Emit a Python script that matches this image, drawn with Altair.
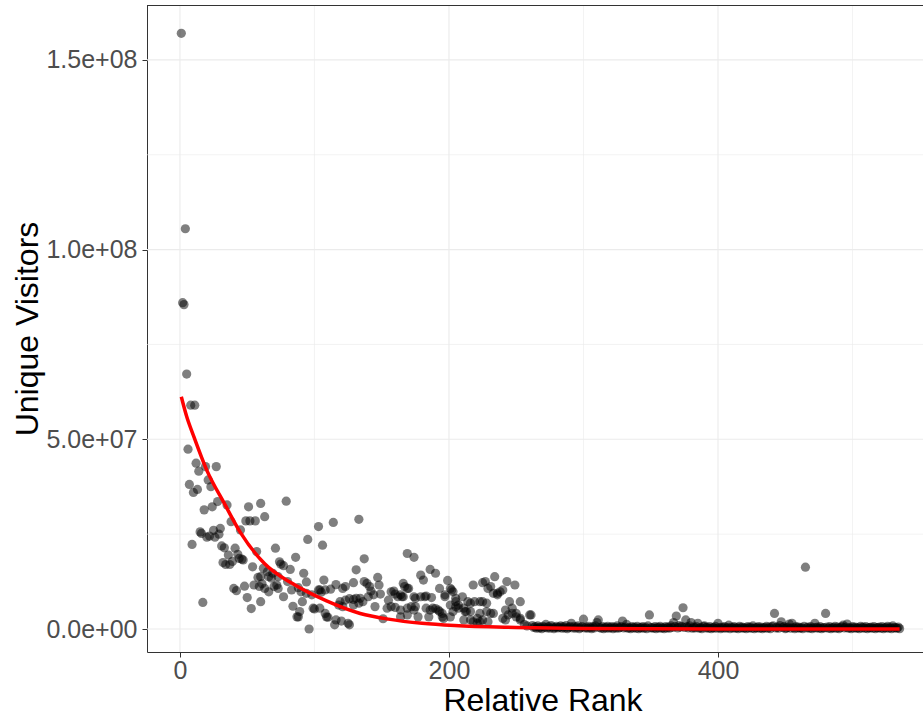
import altair as alt
import pandas as pd

# ---------------- data (values in millions of unique visitors) ----------------
HEAD_RANK = [
    1, 2, 3, 4, 5, 6, 7, 8, 9, 10,
    11, 12, 13, 14, 15, 16, 17, 18, 19, 20,
    21, 22, 23, 24, 25, 26, 27, 28, 29, 30,
    31, 32, 33, 34, 35, 36, 37, 38, 39, 40,
    41, 42, 43, 44, 45, 46, 47, 48, 49, 50,
    51, 52, 53, 54, 55, 56, 57, 58, 59, 60,
    60, 60, 61, 62, 63, 63, 65, 66, 66, 68,
    69, 70, 71, 72, 73, 73, 74, 75, 77, 77,
    79, 80, 82, 83, 84, 86, 87, 88, 88, 89,
    90, 91, 92, 94, 94, 95, 96, 98, 99, 100,
    103, 103, 104, 104, 105, 106, 107, 108, 108, 109,
    110, 112, 114, 115, 116, 116, 118, 119, 120, 121,
    121, 123, 123, 125, 126, 126, 129, 129, 129, 131,
    131, 133, 133, 134, 136, 137, 137, 139, 140, 141,
    142, 144, 145, 147, 148, 149, 151, 154, 155, 157,
    157, 159, 160, 160, 162, 164, 164, 164, 165, 166,
    166, 167, 169, 169, 169, 169, 170, 172, 174, 174,
    174, 175, 175, 177, 179, 179, 181, 182, 183, 183,
    185, 186, 186, 187, 188, 190, 190, 192, 193, 193,
    195, 195, 196, 197, 197, 199, 201, 201, 201, 202,
    203, 203, 205, 205, 205, 207, 207, 210, 211, 211,
    212, 213, 214, 216, 216, 216, 218, 218, 219, 221,
    221, 223, 223, 223, 225, 225, 225, 227, 228, 228,
    229, 229, 231, 231, 233, 233, 234, 236, 236, 238,
    240, 240, 242, 242, 243, 244, 245, 247, 247, 249,
    250, 250, 253, 253, 253, 256, 258, 260, 261,
]
HEAD_VISITORS_M = [
    157, 86, 85.5, 105.5, 67.2, 47.4, 38.1, 59.0, 22.3, 36.0,
    59.0, 43.7, 36.8, 41.6, 25.6, 25.2, 7.0, 31.4, 42.8, 24.2,
    39.3, 24.5, 37.5, 32.2, 26.0, 24.2, 42.8, 33.6, 25.0, 26.5,
    21.9, 17.5, 21.4, 17.0, 32.7, 19.5, 17.0, 28.3, 17.8, 10.7,
    21.3, 10.1, 19.7, 18.6, 26.1, 18.4, 18.2, 11.3, 28.5, 8.3,
    32.2, 28.5, 5.4, 16.4, 11.6, 28.5, 20.4, 13.6, 11.2, 33.1,
    13.8, 7.2, 11.9, 16.0, 29.6, 10.7, 15.1, 13.8, 9.8, 13.4,
    14.7, 11.2, 21.3, 11.6, 13.8, 10.7, 17.7, 17.1, 16.7, 8.5,
    33.7, 12.5, 15.7, 10.3, 6.0, 18.9, 3.2, 10.9, 3.2, 4.6,
    9.8, 7.2, 14.7, 12.4, 9.4, 23.6, 0.0, 9.0, 5.5, 5.3,
    27.0, 10.3, 10.3, 5.5, 9.7, 22.1, 12.9, 10.3, 4.1, 3.2,
    3.1, 10.5, 28.1, 1.1, 2.4, 11.7, 6.3, 7.2, 2.1, 10.7,
    5.9, 7.6, 11.2, 1.5, 8.0, 1.1, 12.2, 7.8, 6.3, 15.6,
    8.1, 6.8, 28.9, 8.1, 7.2, 18.5, 12.5, 12.0, 8.5, 11.2,
    10.0, 9.0, 5.9, 13.6, 11.6, 9.2, 2.7, 5.5, 7.6, 9.8,
    5.9, 10.0, 9.2, 5.7, 8.5, 5.0, 3.2, 9.0, 8.5, 8.5,
    12.0, 11.2, 19.9, 10.7, 3.7, 5.5, 10.7, 5.9, 18.9, 8.5,
    5.0, 8.1, 5.9, 3.2, 14.2, 8.5, 12.9, 8.5, 8.7, 5.5,
    3.2, 15.7, 5.0, 8.3, 5.5, 14.7, 5.4, 5.0, 10.7, 4.6,
    4.1, 3.2, 2.8, 9.0, 8.5, 12.8, 10.7, 6.3, 3.2, 10.3,
    9.8, 4.6, 8.1, 5.9, 7.2, 6.3, 5.5, 8.5, 5.5, 2.4,
    4.6, 4.6, 7.2, 6.8, 4.6, 2.4, 11.6, 1.9, 7.2, 2.8,
    1.5, 7.2, 4.1, 1.9, 7.2, 12.2, 2.4, 12.5, 6.8, 4.6,
    10.7, 1.9, 11.2, 4.1, 9.4, 4.1, 13.8, 9.4, 9.0, 9.8,
    10.3, 2.8, 5.0, 2.4, 12.5, 3.7, 7.2, 4.1, 5.5, 11.6,
    3.2, 4.1, 7.2, 2.8, 2.4, 1.2, 0.8, 3.7, 3.7,
]

# ranks 262 .. 535, one value each
TAIL_FIRST_RANK = 262
TAIL_VISITORS_M = [
    0.9, 0.4, 0.6, 0.2, 0.8, 0.3, 0.5, 0.1, 0.7, 0.4,
    1.2, 0.3, 0.6, 0.2, 0.9, 0.5, 0.1, 0.4, 0.7, 0.3,
    0.5, 0.8, 0.2, 0.6, 0.3, 0.9, 0.1, 0.4, 0.6, 1.5,
    0.3, 0.7, 0.2, 0.5, 0.8, 0.1, 0.4, 0.6, 2.6, 0.3,
    0.5, 0.2, 0.7, 0.4, 0.1, 0.6, 0.3, 0.8, 1.7, 2.4,
    0.4, 0.2, 0.6, 0.1, 0.5, 0.3, 0.7, 0.2, 0.4, 0.6,
    0.1, 0.5, 0.3, 0.8, 0.2, 0.4, 0.6, 2.1, 0.3, 0.5,
    1.2, 0.2, 0.4, 0.1, 0.6, 0.3, 0.5, 0.2, 0.7, 0.1,
    0.4, 0.3, 0.6, 0.2, 0.5, 0.1, 0.8, 3.7, 0.3, 0.4,
    0.2, 0.6, 0.1, 0.5, 0.3, 0.7, 0.2, 0.4, 0.1, 0.6,
    0.3, 0.5, 0.2, 0.8, 0.4, 1.7, 0.6, 3.4, 0.3, 0.9,
    0.5, 0.7, 5.6, 0.4, 2.4, 0.6, 0.3, 0.8, 1.7, 0.2,
    0.5, 0.3, 0.6, 1.5, 0.2, 0.4, 0.1, 0.7, 0.8, 0.3,
    0.5, 0.2, 0.6, 0.1, 0.4, 0.3, 0.7, 0.2, 1.5, 0.4,
    0.1, 0.5, 0.3, 0.6, 0.2, 0.4, 1.0, 0.1, 0.5, 0.3,
    0.6, 0.2, 0.4, 0.1, 0.7, 0.3, 0.5, 0.2, 0.4, 0.1,
    0.6, 0.3, 0.5, 0.2, 0.8, 0.1, 0.4, 0.3, 0.6, 0.2,
    0.5, 0.1, 0.4, 0.3, 0.7, 0.2, 0.5, 0.1, 0.6, 0.8,
    4.1, 0.3, 0.5, 0.2, 0.9, 1.9, 0.4, 0.6, 0.1, 0.3,
    0.5, 1.3, 0.2, 1.5, 0.4, 0.1, 0.6, 0.3, 0.5, 0.2,
    0.4, 0.1, 0.7, 16.3, 0.3, 0.5, 0.2, 0.6, 0.1, 0.4,
    1.5, 0.3, 0.5, 0.2, 0.6, 0.1, 0.4, 0.3, 4.1, 0.5,
    0.2, 0.6, 0.1, 0.4, 0.3, 0.7, 0.2, 0.5, 0.1, 0.4,
    0.6, 1.0, 0.3, 0.5, 1.3, 0.2, 0.4, 0.1, 0.6, 0.3,
    0.5, 0.2, 0.4, 0.1, 0.7, 0.3, 0.5, 0.2, 0.6, 0.1,
    0.4, 0.3, 0.5, 0.2, 0.6, 0.1, 0.4, 0.3, 0.5, 0.2,
    0.6, 0.1, 0.4, 0.3, 0.7, 0.2, 0.5, 0.1, 0.8, 0.3,
    0.4, 0.2, 0.5, 0.1,
]

# red fitted curve
FIT_RANK = [1, 5, 10, 20, 33, 45, 63, 84, 109, 134, 155, 180, 204, 250, 300, 400, 535]
FIT_VISITORS_M = [61.2, 56.0, 51.0, 41.8, 33.1, 25.4, 17.2, 11.9, 7.4, 4.1, 2.6, 1.5, 0.9, 0.4, 0.15, 0.02, 0.0]

X_MAJOR = [0, 200, 400]
X_MINOR = [100, 300, 500]
Y_MAJOR = [0, 50000000, 100000000, 150000000]
Y_MAJOR_LABELS = ["0.0e+00", "5.0e+07", "1.0e+08", "1.5e+08"]
Y_MINOR = [25000000, 75000000, 125000000]

# ---------------- tables ----------------
ranks = HEAD_RANK + list(range(TAIL_FIRST_RANK, TAIL_FIRST_RANK + len(TAIL_VISITORS_M)))
visitors = [v * 1e6 for v in HEAD_VISITORS_M + TAIL_VISITORS_M]
points = pd.DataFrame({"rank": ranks, "visitors": visitors})
fit = pd.DataFrame({"rank": FIT_RANK, "visitors": [v * 1e6 for v in FIT_VISITORS_M]})

W, H = 776, 647
FONT = "Liberation Sans"
GRID = "#EBEBEB"
DARK = "#333333"

xscale = alt.Scale(domain=[-24.5, 552.4], nice=False, zero=False)
yscale = alt.Scale(domain=[-6.06e6, 1.6447e8], nice=False, zero=False)

label_expr = "''"
for v, lab in reversed(list(zip(Y_MAJOR, Y_MAJOR_LABELS))):
    label_expr = f"datum.value == {v} ? '{lab}' : ({label_expr})"

x_axis = alt.Axis(
    values=X_MAJOR, title="Relative Rank", grid=False,
    labelFontSize=25, labelColor="#4D4D4D", labelPadding=1,
    tickSize=5, tickColor=DARK, tickWidth=1,
    domainColor=DARK, domainWidth=1,
    titleFontSize=32, titleColor="black", titleFontWeight="normal",
    titleX=395.5, titleY=58, titleAlign="center", titleBaseline="alphabetic",
)
y_axis = alt.Axis(
    values=Y_MAJOR, labelExpr=label_expr, title="Unique Visitors", grid=False,
    labelFontSize=25, labelColor="#4D4D4D", labelPadding=5,
    tickSize=5, tickColor=DARK, tickWidth=1,
    domainColor=DARK, domainWidth=1,
    titleFontSize=32, titleColor="black", titleFontWeight="normal",
    titleX=-110, titleY=H / 2, titleAlign="center", titleBaseline="alphabetic",
    titleAngle=270,
)


def xe():
    return alt.X("rank:Q", scale=xscale, axis=x_axis)


def ye():
    return alt.Y("visitors:Q", scale=yscale, axis=y_axis)


x_minor = alt.Chart(pd.DataFrame({"rank": X_MINOR})).mark_rule(
    color=GRID, strokeWidth=0.6).encode(x=xe())
x_major = alt.Chart(pd.DataFrame({"rank": X_MAJOR})).mark_rule(
    color=GRID, strokeWidth=1.1).encode(x=xe())
y_minor = alt.Chart(pd.DataFrame({"visitors": Y_MINOR})).mark_rule(
    color=GRID, strokeWidth=0.6).encode(y=ye())
y_major = alt.Chart(pd.DataFrame({"visitors": Y_MAJOR})).mark_rule(
    color=GRID, strokeWidth=1.1).encode(y=ye())

dots = alt.Chart(points).mark_circle(
    size=85, color="black", opacity=0.5, clip=True
).encode(x=xe(), y=ye())

curve = alt.Chart(fit).mark_line(
    color="#FF0000", strokeWidth=3.5, interpolate="monotone", clip=True
).encode(x=xe(), y=ye())

top_border = alt.Chart(pd.DataFrame({"k": [0]})).mark_rule(
    color=DARK, strokeWidth=1
).encode(x=alt.value(0), x2=alt.value(W), y=alt.value(0.5))

chart = alt.layer(
    x_minor, y_minor, x_major, y_major, dots, curve, top_border
).properties(
    width=W, height=H,
    autosize=alt.AutoSizeParams(type="none"),
    padding={"left": 147, "top": 5, "right": 0, "bottom": 67},
).configure_view(stroke=None).configure_axis(
    labelFont=FONT, titleFont=FONT
)

chart.save("out.html", embed_options={"renderer": "svg", "actions": False})
